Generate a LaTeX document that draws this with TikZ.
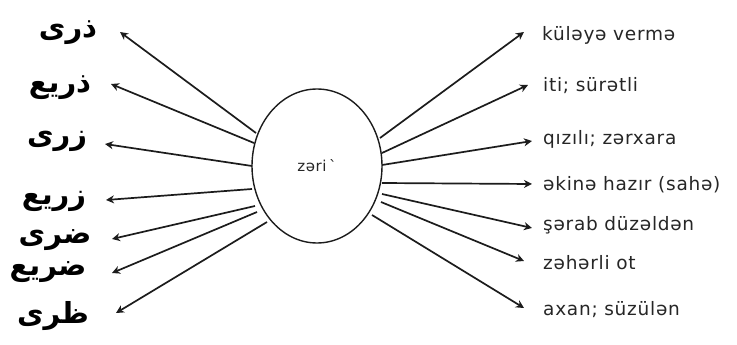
\documentclass[tikz,border=0pt]{standalone}
\usepackage{fontspec}
\usetikzlibrary{arrows.meta,shapes.geometric}
\TeXXeTstate=1
\newfontfamily\arabicfont[Script=Arabic]{DejaVu Sans}
\newfontfamily\latinfont[LetterSpace=4]{DejaVu Sans}
\definecolor{txtgray}{HTML}{262626}
\definecolor{linegray}{HTML}{1C1C1C}
\tikzset{
  arlabel/.style={font=\arabicfont\bfseries\fontsize{29}{32}\selectfont, text=black, inner sep=0pt},
  azlabel/.style={font=\latinfont\fontsize{18.5}{21}\selectfont, text=txtgray, anchor=west, inner sep=0pt},
  conn/.style={draw=linegray, line width=1.7pt, -{Stealth[length=8pt,width=8pt,inset=2.5pt]}},
  hub/.style={ellipse, draw=linegray, line width=1.4pt, minimum width=130pt, minimum height=154pt, inner sep=0pt,
    font=\latinfont\fontsize{15}{18}\selectfont, text=txtgray}
}
\begin{document}
\begin{tikzpicture}[x=1pt,y=-1pt]
\useasboundingbox (0,0) rectangle (737,345);
\fill[white] (0,0) rectangle (737,345);
\node[hub] (c) at (317,166) {zəri\,\textasciigrave};

% left labels
\node[arlabel] (l1) at (68,33) {\beginR ذری\endR};
\node[arlabel] (l2) at (60,88) {\beginR ذریع\endR};
\node[arlabel] (l3) at (57,141) {\beginR زری\endR};
\node[arlabel] (l4) at (54,201) {\beginR زریع\endR};
\node[arlabel] (l5) at (55,240) {\beginR ضری\endR};
\node[arlabel] (l6) at (48,272) {\beginR ضریع\endR};
\node[arlabel] (l7) at (53,316) {\beginR ظری\endR};

% right labels
\node[azlabel] (r1) at (542,35) {küləyə vermə};
\node[azlabel] (r2) at (543,86) {iti; sürətli};
\node[azlabel] (r3) at (543,139) {qızılı; zərxara};
\node[azlabel] (r4) at (543,185) {əkinə hazır (sahə)};
\node[azlabel] (r5) at (543,225) {şərab düzəldən};
\node[azlabel] (r6) at (543,263) {zəhərli ot};
\node[azlabel] (r7) at (543,310) {axan; süzülən};

% start points on ellipse
\coordinate (s1) at (256,133);
\coordinate (s2) at (254,143);
\coordinate (s3) at (252,166);
\coordinate (s4) at (252,189);
\coordinate (s5) at (255,206);
\coordinate (s6) at (257,212);
\coordinate (s7) at (267,222);
\coordinate (e1) at (380,138);
\coordinate (e2) at (382,153);
\coordinate (e3) at (382,165);
\coordinate (e4) at (382,183);
\coordinate (e5) at (382,194);
\coordinate (e6) at (381,202);
\coordinate (e7) at (372,215);

% tips
\coordinate (t1) at (120,32);
\coordinate (t2) at (111,84);
\coordinate (t3) at (105,144);
\coordinate (t4) at (106,200);
\coordinate (t5) at (112,239);
\coordinate (t6) at (112,273);
\coordinate (t7) at (116,313);
\coordinate (u1) at (524,32);
\coordinate (u2) at (528,85);
\coordinate (u3) at (532,141);
\coordinate (u4) at (532,184);
\coordinate (u5) at (532,228);
\coordinate (u6) at (524,261);
\coordinate (u7) at (524,308);

\foreach \i in {1,...,7}{
  \draw[conn] (s\i) -- (t\i);
  \draw[conn] (e\i) -- (u\i);
}
\end{tikzpicture}
\end{document}
